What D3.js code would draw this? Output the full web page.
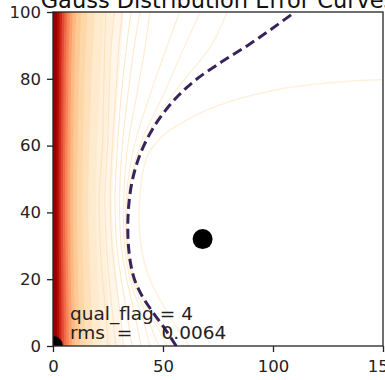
<!DOCTYPE html>
<html>
<head>
<meta charset="utf-8">
<script src="https://cdn.jsdelivr.net/npm/d3@7"></script>
<style>
  html, body { margin: 0; padding: 0; background: #fff; }
  svg { display: block; font-family: "DejaVu Sans", sans-serif; }
  text { white-space: pre; }
</style>
</head>
<body>
<svg id="chart" width="385" height="380"></svg>
<script>
// ---- data -------------------------------------------------------------
const titleText = "Gauss Distribution Error Curves";
const xTicks = [0, 50, 100, 150];
const yTicks = [0, 20, 40, 60, 80, 100];

// heights at which the contour edges of the dense band are sampled
const bandY = [0, 20, 40, 60, 80, 100];
// x position of each band edge at those heights (outermost first)
const bandEdges = [
  [31, 29, 27, 28, 30, 32],
  [26.5, 24.5, 23, 24, 25.5, 27.5],
  [22, 20.5, 19.5, 20, 21.5, 23],
  [18, 17, 16, 16.5, 17.5, 19],
  [14.8, 13.8, 13.3, 13.6, 14.3, 15.6],
  [12.2, 11.4, 10.9, 11.2, 11.7, 12.7],
  [10.1, 9.5, 9.1, 9.3, 9.7, 10.5],
  [8.6, 8.1, 7.8, 7.9, 8.2, 8.9],
  [7.3, 6.9, 6.6, 6.7, 7, 7.6],
  [6.1, 5.8, 5.5, 5.6, 5.9, 6.3],
  [5, 4.7, 4.5, 4.6, 4.8, 5.2],
  [3.9, 3.7, 3.5, 3.6, 3.8, 4.1],
  [2.9, 2.7, 2.6, 2.6, 2.8, 3],
  [1.8, 1.7, 1.6, 1.6, 1.7, 1.9]
];

// thin contour lines outside the dashed level (outermost first)
const outerContours = [
  [[25,0],[24,10],[22.5,20],[21.5,30],[21,45],[22.5,60],[23,75],[23.5,90],[24,100]],
  [[28.5,0],[27,10],[25.5,20],[24.3,30],[23.6,45],[24.8,60],[25.5,75],[26.5,90],[28,100]],
  [[32,0],[30.5,10],[28.5,20],[26.8,30],[26,45],[27,60],[28.5,75],[30,90],[31.5,100]],
  [[36,0],[33.5,10],[31,20],[29,30],[28.2,45],[29.3,60],[31,75],[33.5,90],[35.5,100]],
  [[40,0],[37,10],[33.5,20],[31,30],[30.3,45],[31.5,60],[34,75],[37,90],[39.5,100]],
  [[44,0],[40,10],[35,20],[32.5,30],[32.2,45],[34,60],[38,75],[42,90],[44,100]],
  [[48,0],[42,10],[36,20],[33.4,30],[33.4,45],[37,60],[44,75],[52,90],[57.5,100]],
  [[52,0],[44,10],[36.8,20],[33.9,30],[34,45],[39.5,60],[50,75],[60,90],[67,100]],
  [[54,0],[45,10],[37.2,20],[34.1,30],[34.3,45],[40.5,60],[54,75],[72,90],[79,100]]
];

// the highlighted (dashed) error level
const dashedContour = [
  [56,0],[51,5],[45.5,10],[40.5,15],[37,20],[35.2,25],[34.3,30],[34,35],
  [34.2,40],[34.9,45],[36.2,50],[38.3,55],[41.3,60],[45.3,65],[50.5,70],
  [57,75],[65.5,80],[76.5,85],[88.5,90],[99.5,95],[110,100]
];

// faint level just inside the dashed one
const innerContours = [
  [[62,0],[52,10],[44,20],[40,30],[39.5,45],[43,57],[50,63],[59,67],[75,72],[100,76.5],[125,78.8],[150,79.8]]
];

// best fit and origin markers
const markers = [
  { x: 68, y: 32 },
  { x: 0, y: 0 }
];

const qualFlag = 4;
const rmsValue = 0.0064;

// ---- layout -----------------------------------------------------------
const svg = d3.select("#chart");
const plot = { left: 53, right: 383, top: 12, bottom: 346 };

const x = d3.scaleLinear().domain([0, 150]).range([plot.left, plot.right]);
const y = d3.scaleLinear().domain([0, 100]).range([plot.bottom, plot.top]);

svg.append("defs").append("clipPath").attr("id", "plot-clip")
  .append("rect")
  .attr("x", plot.left).attr("y", plot.top)
  .attr("width", plot.right - plot.left).attr("height", plot.bottom - plot.top);

const body = svg.append("g").attr("clip-path", "url(#plot-clip)");

// dense filled band along the left edge
const bandColor = i => d3.interpolateOrRd(Math.pow((i + 0.5) / bandEdges.length, 1.3));
const bandArea = d3.area()
  .x0(x(0))
  .x1(d => x(d[0]))
  .y(d => y(d[1]))
  .curve(d3.curveCatmullRom.alpha(0.5));

body.append("g").selectAll("path")
  .data(bandEdges)
  .join("path")
  .attr("d", edge => {
    const pts = edge.map((ex, k) => [ex, bandY[k]]);
    // extend past the frame so the band fills the full height
    return bandArea([[edge[0], -5], ...pts, [edge[edge.length - 1], 105]]);
  })
  .attr("fill", (d, i) => bandColor(i));

const line = d3.line()
  .x(d => x(d[0]))
  .y(d => y(d[1]))
  .curve(d3.curveCatmullRom.alpha(0.5));

// thin contour lines
body.append("g").selectAll("path")
  .data(outerContours)
  .join("path")
  .attr("d", line)
  .attr("fill", "none")
  .attr("stroke", (d, i) => d3.interpolateOrRd(0.16 - i * 0.012))
  .attr("stroke-width", 1.1);

body.append("g").selectAll("path")
  .data(innerContours)
  .join("path")
  .attr("d", line)
  .attr("fill", "none")
  .attr("stroke", d3.interpolateOrRd(0.05))
  .attr("stroke-width", 1.6);

// dashed error level
body.append("path")
  .datum(dashedContour)
  .attr("d", line)
  .attr("fill", "none")
  .attr("stroke", "#37245a")
  .attr("stroke-width", 3)
  .attr("stroke-dasharray", "10,5");

// markers
body.append("g").selectAll("circle")
  .data(markers)
  .join("circle")
  .attr("cx", d => x(d.x))
  .attr("cy", d => y(d.y))
  .attr("r", 10)
  .attr("fill", "#000");

// annotation
const note = svg.append("text")
  .attr("x", x(7.7))
  .attr("fill", "#222")
  .style("font-size", "18.5px");
note.append("tspan").attr("x", x(7.7)).attr("y", 320).text(`qual_flag = ${qualFlag}`);
note.append("tspan").attr("x", x(7.7)).attr("y", 339)
  .text(`rms  = ${rmsValue.toFixed(4).padStart(10, " ")}`);

// axes
const xAxis = svg.append("g")
  .attr("transform", `translate(0,${plot.bottom})`)
  .call(d3.axisBottom(x).tickValues(xTicks).tickFormat(d3.format("d")).tickSize(6).tickPadding(8));
const yAxis = svg.append("g")
  .attr("transform", `translate(${plot.left},0)`)
  .call(d3.axisLeft(y).tickValues(yTicks).tickFormat(d3.format("d")).tickSize(6).tickPadding(6));

[xAxis, yAxis].forEach(g => {
  g.select(".domain").remove();
  g.selectAll(".tick line").attr("stroke", "#222").attr("stroke-width", 1.3);
  g.selectAll(".tick text")
    .attr("fill", "#222")
    .style("font-size", "16.5px")
    .style("font-family", "DejaVu Sans, sans-serif");
});

// frame
svg.append("rect")
  .attr("x", plot.left).attr("y", plot.top)
  .attr("width", plot.right - plot.left).attr("height", plot.bottom - plot.top)
  .attr("fill", "none")
  .attr("stroke", "#222")
  .attr("stroke-width", 1.3);

// title
svg.append("text")
  .attr("x", (plot.left + plot.right) / 2)
  .attr("y", 8)
  .attr("text-anchor", "middle")
  .attr("fill", "#111")
  .style("font-size", "22.5px")
  .text(titleText);
</script>
</body>
</html>
